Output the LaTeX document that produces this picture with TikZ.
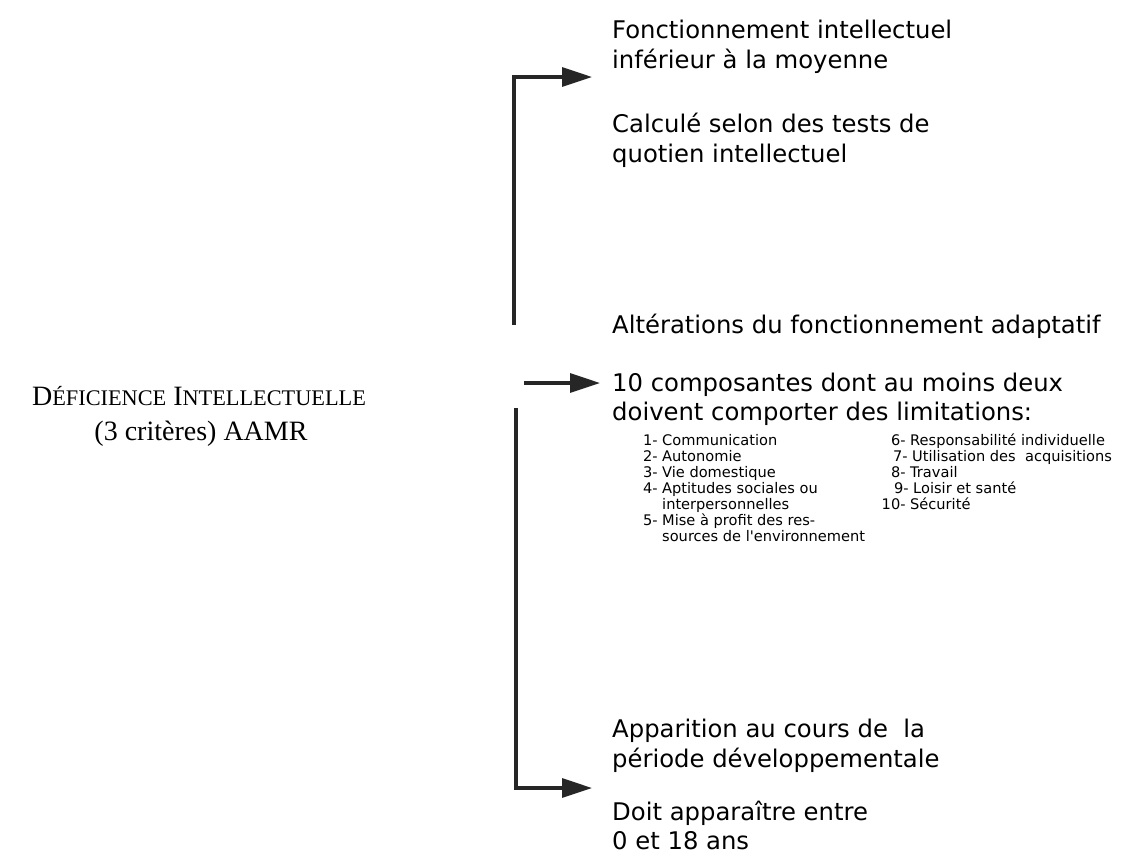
\documentclass[tikz,border=0pt]{standalone}
\usepackage{fontspec}
\setmainfont{DejaVu Sans}
\newfontfamily\djv{DejaVu Sans}
\newfontfamily\serifface{Liberation Serif}
\usetikzlibrary{arrows.meta}
\tikzset{
  big/.style={anchor=base west, inner sep=0pt, font=\fontsize{24.3}{30}\selectfont},
  small/.style={anchor=base west, inner sep=0pt, font=\djv\fontsize{14.6}{16}\selectfont},
  ttl/.style={anchor=base, inner sep=0pt, font=\serifface\fontsize{28}{34}\selectfont},
  conn/.style={line width=3.2pt, color=black!85, -{Triangle[length=30pt,width=19pt]}}
}
\begin{document}
\begin{tikzpicture}[x=1pt,y=-1pt]
\useasboundingbox (0,0) rectangle (1128,855);
% title
\node[ttl] (t1) at (199,405) {D{\fontsize{22.3}{26}\selectfont ÉFICIENCE} I{\fontsize{22.3}{26}\selectfont NTELLECTUELLE}};
\node[ttl] (t2) at (201,440) {(3 critères) AAMR};
% right texts
\node[big] (a1) at (612,38) {Fonctionnement intellectuel};
\node[big] (a2) at (612,68) {inférieur à la moyenne};
\node[big] (a3) at (612,132) {Calculé selon des tests de};
\node[big] (a4) at (612,162) {quotien intellectuel};
\node[big] (b1) at (612,333) {Altérations du fonctionnement adaptatif};
\node[big] (b2) at (612,391) {10 composantes dont au moins deux};
\node[big] (b3) at (612,420) {doivent comporter des limitations:};
\node[small] (l1) at (662,445) {\llap{1- }Communication};
\node[small] (l2) at (662,461) {\llap{2- }Autonomie};
\node[small] (l3) at (662,477) {\llap{3- }Vie domestique};
\node[small] (l4) at (662,493) {\llap{4- }Aptitudes sociales ou};
\node[small] (l4b) at (662,509) {interpersonnelles};
\node[small] (l5) at (662,525) {\llap{5- }Mise à profit des res-};
\node[small] (l5b) at (662,541) {sources de l'environnement};
\node[small] (r6) at (910,445) {\llap{6- }Responsabilité individuelle};
\node[small] (r7) at (912,461) {\llap{7- }Utilisation des\ \ acquisitions};
\node[small] (r8) at (910,477) {\llap{8- }Travail};
\node[small] (r9) at (913,493) {\llap{9- }Loisir et santé};
\node[small] (r10) at (910,509) {\llap{10- }Sécurité};
\node[big] (c1) at (612,737) {Apparition au cours de\ \ la};
\node[big] (c2) at (612,767) {période développementale};
\node[big] (c3) at (612,820) {Doit apparaître entre};
\node[big] (c4) at (612,849) {0 et 18 ans};
% connectors
\coordinate (top0) at (514,325);
\coordinate (topc) at (514,77);
\coordinate (tope) at (592,77);
\coordinate (mid0) at (524,383);
\coordinate (mide) at (600,383);
\coordinate (bot0) at (516,408);
\coordinate (botc) at (516,788);
\coordinate (bote) at (592,788);
\draw[conn] (top0) -- (topc) -- (tope);
\draw[conn] (mid0) -- (mide);
\draw[conn] (bot0) -- (botc) -- (bote);
\end{tikzpicture}
\end{document}
